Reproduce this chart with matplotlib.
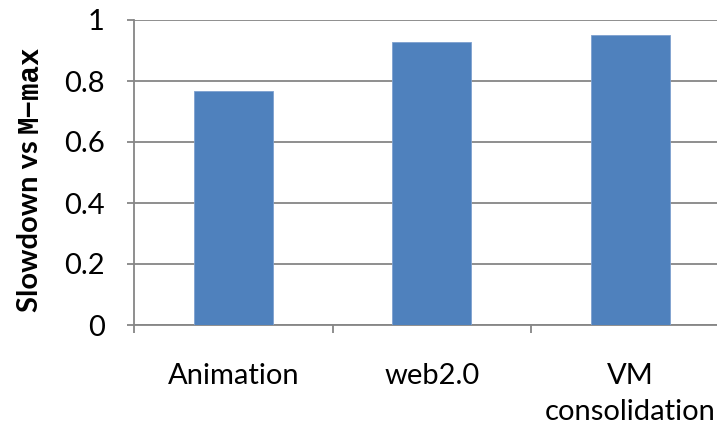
import matplotlib.pyplot as plt

workloads = ["Animation", "web2.0", "VM\nconsolidation"]
slowdown = [0.767, 0.929, 0.951]
yticks = [0, 0.2, 0.4, 0.6, 0.8, 1]
ytick_labels = ["0", "0.2", "0.4", "0.6", "0.8", "1"]

plt.rcParams['font.family'] = ['Lato', 'DejaVu Sans']

fig = plt.figure(figsize=(7.17, 4.29), dpi=100)
ax = fig.add_axes([134 / 717, 1 - 325 / 429, 1 - 134 / 717, 305 / 429])

grey = '#868686'
ax.bar(range(len(workloads)), slowdown, width=0.4, color='#4F81BD',
       edgecolor='#7EA0CF', linewidth=0.6, zorder=3)

ax.set_ylim(0, 1)
ax.set_xlim(-0.5, 2.437)
ax.set_yticks(yticks)
ax.set_yticklabels(ytick_labels)
ax.yaxis.grid(True, color=grey, linewidth=1.3, zorder=0)

# category labels sit between the tick marks
ax.set_xticks([-0.5, 0.5, 1.5])
ax.set_xticklabels([])
ax.set_xticks(range(len(workloads)), minor=True)
ax.set_xticklabels(workloads, minor=True, fontsize=21, linespacing=1.5)
ax.tick_params(axis='x', which='major', length=6, width=1.3, color=grey)
ax.tick_params(axis='x', which='minor', length=0, pad=27)
ax.tick_params(axis='y', length=5, width=1.3, color=grey, pad=16, labelsize=21)

for s in ['top', 'right']:
    ax.spines[s].set_visible(False)
for s in ['left', 'bottom']:
    ax.spines[s].set_color(grey)
    ax.spines[s].set_linewidth(1.3)

# y label: normal text followed by a monospace "M-max"
r = fig.canvas.get_renderer()
t1 = fig.text(30 / 717, 1 - 312 / 429, "Slowdown vs ", rotation=90,
              fontsize=21, fontweight='bold', ha='center', va='bottom')
bb = t1.get_window_extent(renderer=r)
fig.text(30 / 717, bb.y1 / 429, "M\u2212max", rotation=90, fontsize=21,
         fontweight='bold', family='Liberation Mono', ha='center', va='bottom')

fig.savefig('out.png', dpi=100)
